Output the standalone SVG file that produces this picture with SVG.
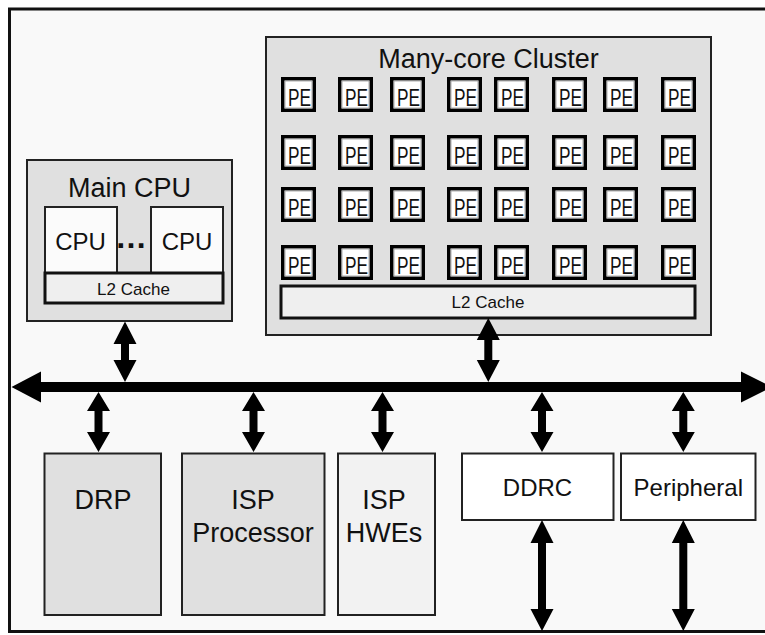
<svg xmlns="http://www.w3.org/2000/svg" width="765" height="635" viewBox="0 0 765 635">
<defs>
<style>
text{font-family:"Liberation Sans",Arial,sans-serif;fill:#111;text-anchor:middle}
.box{stroke:#222;stroke-width:2}
.g{fill:#e0e0e0}
.w{fill:#fbfbfb}
.l2{fill:#efefef;stroke:#111;stroke-width:3}
.big{font-size:27px}
.mid{font-size:24px}
.sm{font-size:17px}
.peo{fill:#fff;stroke:#000;stroke-width:3.5}
.pei{fill:none;stroke:#999;stroke-width:0.8}
.pet{font-size:24px}
.arr{fill:#000}
</style>
<g id="pe">
<rect class="peo" x="1.75" y="1.75" width="31.5" height="31.5"/>
<rect class="pei" x="4" y="4" width="27" height="27"/>
<text class="pet" x="18.5" y="29" textLength="23" lengthAdjust="spacingAndGlyphs">PE</text>
</g>
</defs>
<rect x="0" y="0" width="765" height="635" fill="#fff"/>
<rect id="frame" x="9.5" y="9" width="770" height="622.5" fill="#f9f9f9" stroke="#111" stroke-width="3"/>

<g id="main-cpu">
<rect class="box g" x="27" y="160" width="205" height="161"/>
<text class="big" x="129.5" y="197">Main CPU</text>
<rect class="box w" x="45" y="207" width="72" height="66"/>
<text class="mid" x="80.5" y="250">CPU</text>
<rect class="box w" x="151" y="207" width="72" height="66"/>
<text class="mid" x="187" y="250">CPU</text>
<text x="131" y="248" style="font-size:32px;font-weight:bold">…</text>
<rect class="l2" x="45" y="273" width="178" height="30"/>
<text class="sm" x="133.5" y="295">L2 Cache</text>
</g>

<g id="cluster">
<rect class="box g" x="266" y="37" width="445" height="298"/>
<text class="big" x="488.5" y="68">Many-core Cluster</text>
<g>
<use href="#pe" x="281" y="77"/><use href="#pe" x="338" y="77"/><use href="#pe" x="390" y="77"/><use href="#pe" x="447" y="77"/><use href="#pe" x="494" y="77"/><use href="#pe" x="552" y="77"/><use href="#pe" x="603" y="77"/><use href="#pe" x="661" y="77"/>
<use href="#pe" x="281" y="135"/><use href="#pe" x="338" y="135"/><use href="#pe" x="390" y="135"/><use href="#pe" x="447" y="135"/><use href="#pe" x="494" y="135"/><use href="#pe" x="552" y="135"/><use href="#pe" x="603" y="135"/><use href="#pe" x="661" y="135"/>
<use href="#pe" x="281" y="187"/><use href="#pe" x="338" y="187"/><use href="#pe" x="390" y="187"/><use href="#pe" x="447" y="187"/><use href="#pe" x="494" y="187"/><use href="#pe" x="552" y="187"/><use href="#pe" x="603" y="187"/><use href="#pe" x="661" y="187"/>
<use href="#pe" x="281" y="245"/><use href="#pe" x="338" y="245"/><use href="#pe" x="390" y="245"/><use href="#pe" x="447" y="245"/><use href="#pe" x="494" y="245"/><use href="#pe" x="552" y="245"/><use href="#pe" x="603" y="245"/><use href="#pe" x="661" y="245"/>
</g>
<rect class="l2" x="281" y="286" width="414" height="32"/>
<text class="sm" x="488" y="308">L2 Cache</text>
</g>

<g id="drp">
<rect class="box g" x="44.5" y="453.5" width="116.5" height="161.5"/>
<text class="big" x="103" y="509">DRP</text>
</g>
<g id="isp-processor">
<rect class="box g" x="182" y="453.5" width="142.5" height="161.5"/>
<text class="big" x="253" y="509">ISP</text>
<text class="big" x="253" y="542">Processor</text>
</g>
<g id="isp-hwes">
<rect class="box" fill="#f2f2f2" x="338" y="453.5" width="97" height="161.5"/>
<text class="big" x="384" y="509">ISP</text>
<text class="big" x="384" y="542">HWEs</text>
</g>
<g id="ddrc">
<rect class="box" fill="#fff" x="462" y="453.5" width="151.5" height="66.5"/>
<text class="mid" x="537.5" y="496">DDRC</text>
</g>
<g id="peripheral">
<rect class="box" fill="#fff" x="621" y="453.5" width="134.5" height="66.5"/>
<text class="mid" x="688.3" y="496">Peripheral</text>
</g>

<g id="connectors" class="arr">
<polygon points="11.5,387 41,371.5 41,382 741,382 741,371.5 772,387 741,402.5 741,392 41,392 41,402.5"/>
<polygon points="125,321.5 136.5,344 129,344 129,360 136.5,360 125,382 113.5,360 121,360 121,344 113.5,344"/>
<polygon points="488.3,318 499.8,340 492.3,340 492.3,360 499.8,360 488.3,382 476.8,360 484.3,360 484.3,340 476.8,340"/>
<polygon points="98.5,392 110,411 102.5,411 102.5,432 110,432 98.5,452 87,432 94.5,432 94.5,411 87,411"/>
<polygon points="253.5,392 265,411 257.5,411 257.5,432 265,432 253.5,452 242,432 249.5,432 249.5,411 242,411"/>
<polygon points="382.5,392 394,411 386.5,411 386.5,432 394,432 382.5,452 371,432 378.5,432 378.5,411 371,411"/>
<polygon points="542,392 553.5,411 546,411 546,432 553.5,432 542,452 530.5,432 538,432 538,411 530.5,411"/>
<polygon points="683.3,392 694.8,411 687.3,411 687.3,432 694.8,432 683.3,452 671.8,432 679.3,432 679.3,411 671.8,411"/>
<polygon points="542,520 553.5,543 546,543 546,609 553.5,609 542,631 530.5,609 538,609 538,543 530.5,543"/>
<polygon points="683.3,520 694.8,543 687.3,543 687.3,609 694.8,609 683.3,631 671.8,609 679.3,609 679.3,543 671.8,543"/>
</g>
</svg>
